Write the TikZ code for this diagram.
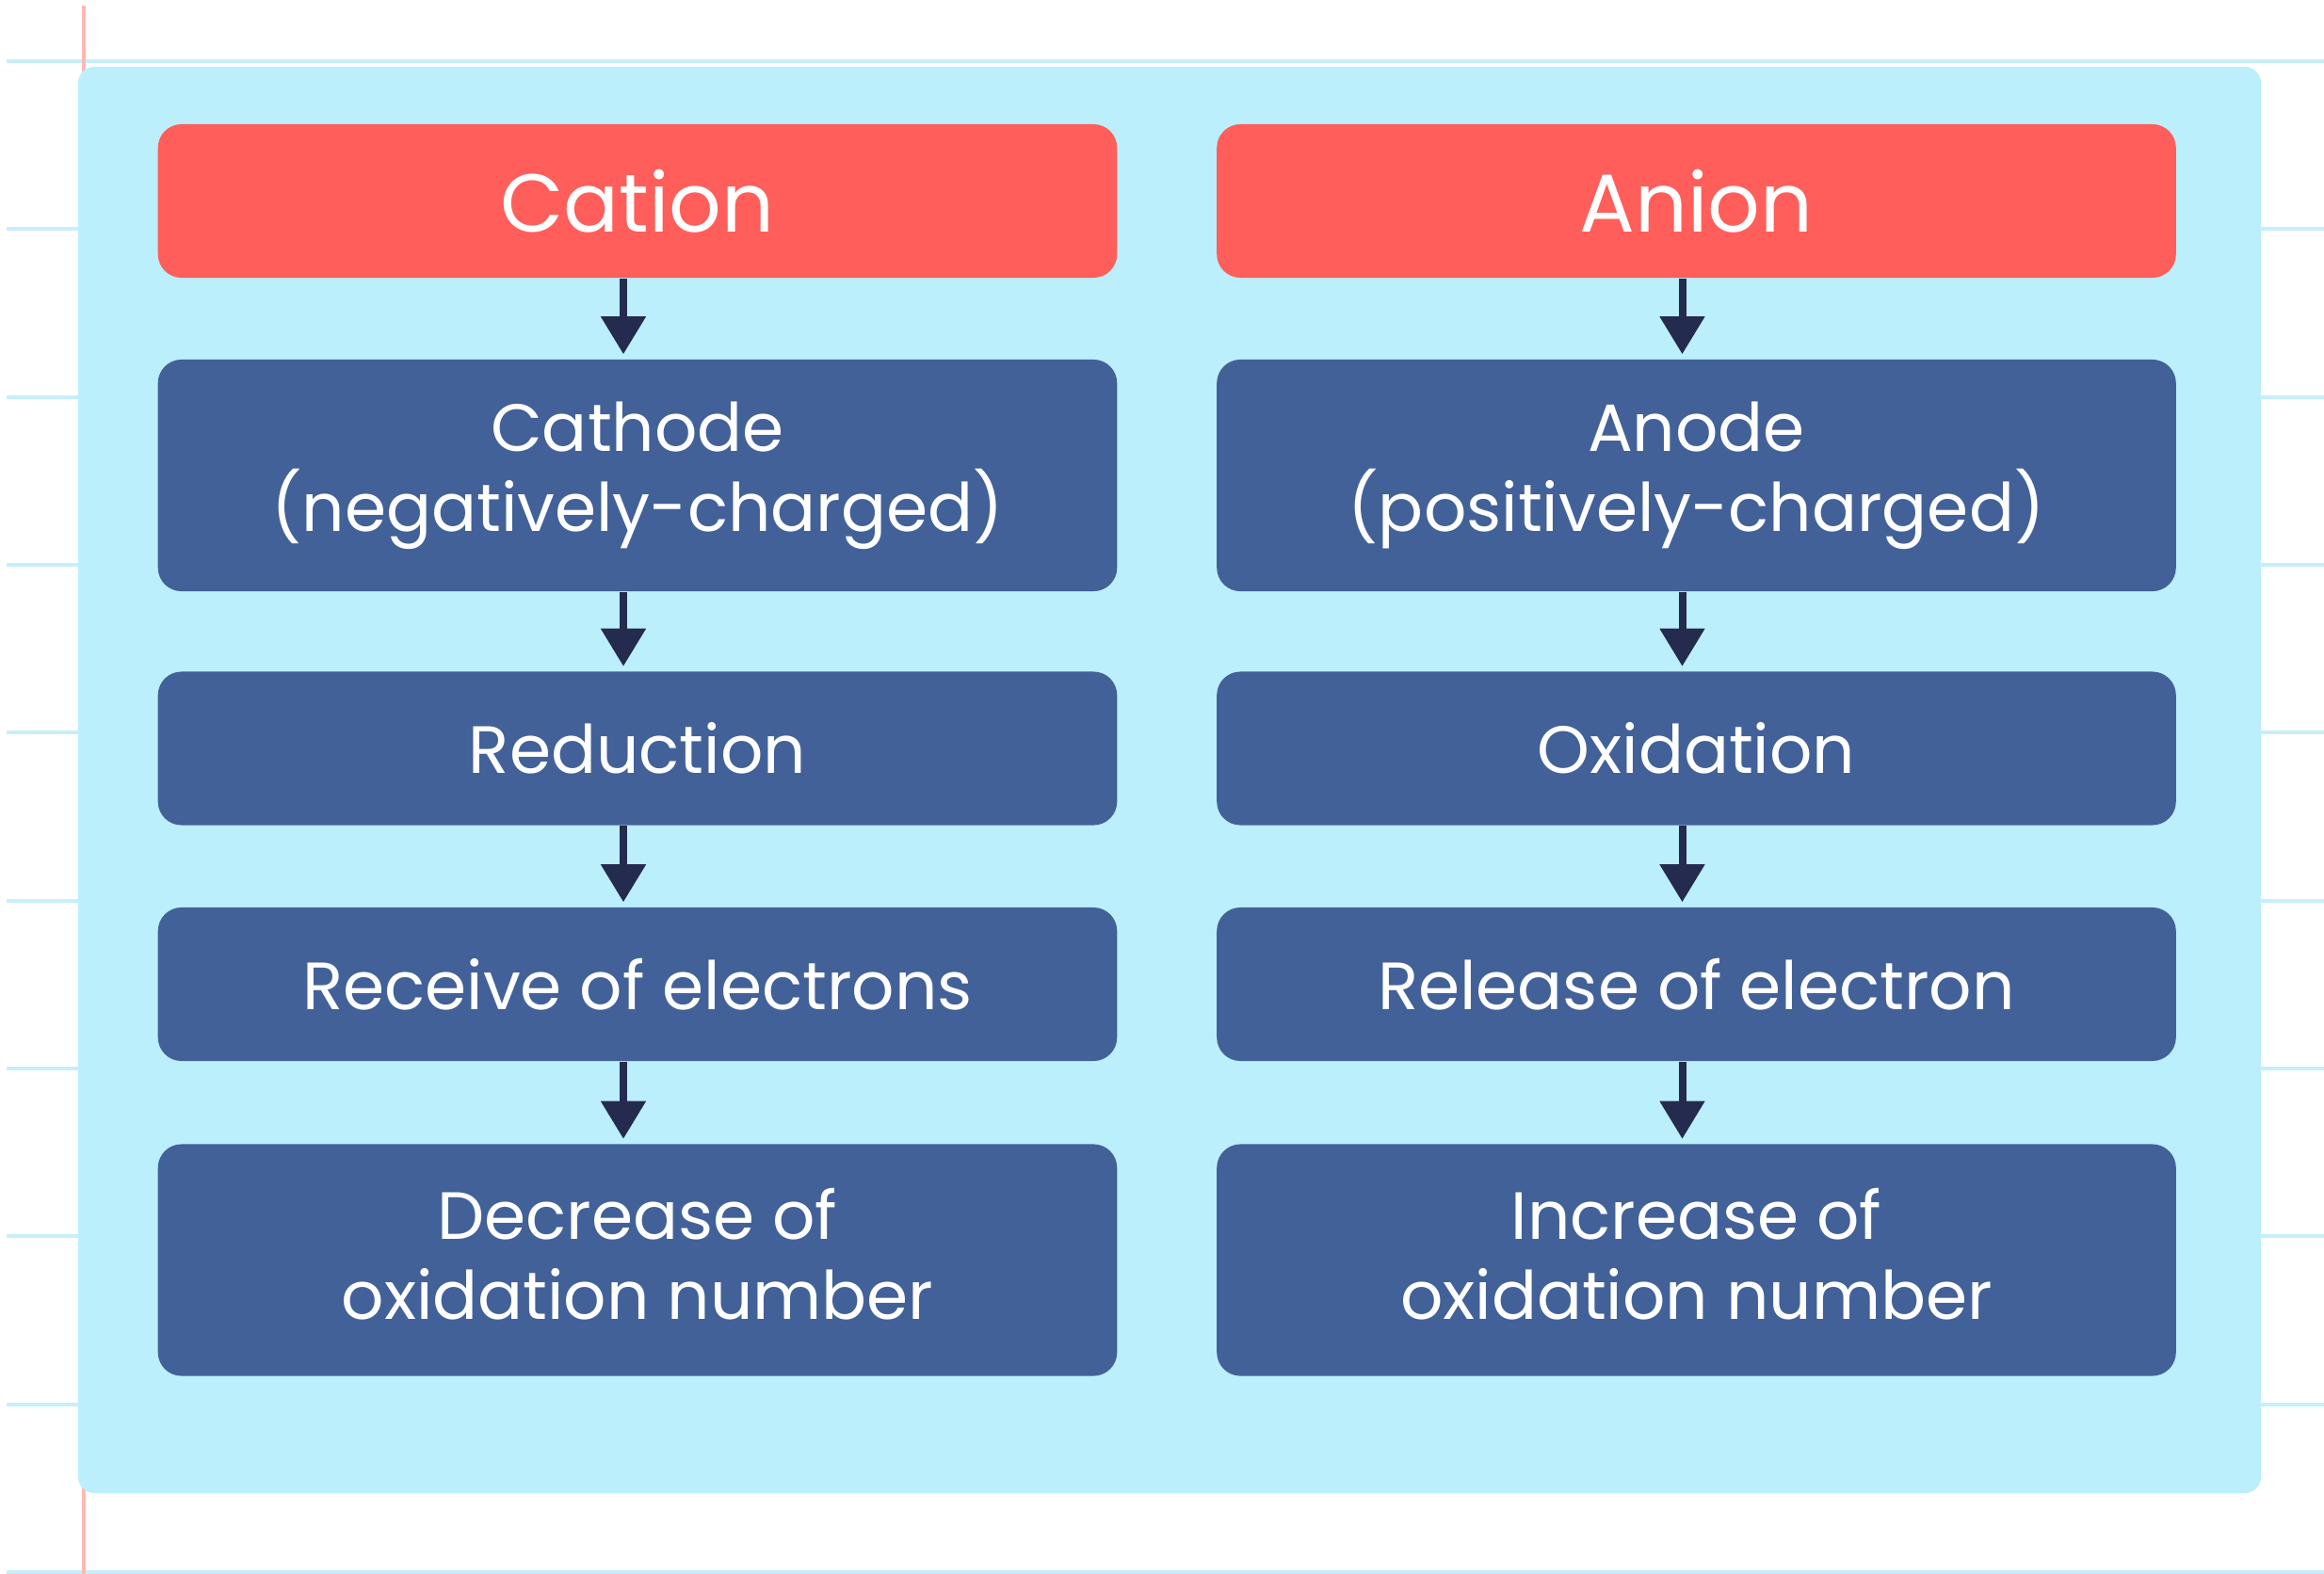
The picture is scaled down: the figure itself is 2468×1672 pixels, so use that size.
\documentclass[tikz,border=0pt]{standalone}
\usepackage{fontspec}
\setmainfont{Poppins}
\usetikzlibrary{arrows.meta}
\definecolor{panelblue}{HTML}{BBEFFC}
\definecolor{lineblue}{HTML}{C6EFFB}
\definecolor{marginred}{HTML}{FFB8B5}
\definecolor{titlered}{HTML}{FF5E5B}
\definecolor{boxblue}{HTML}{426198}
\definecolor{arrowcol}{HTML}{252A4F}
\tikzset{
  titlebox/.style={fill=titlered, rounded corners=0.25cm, minimum width=10.18cm, minimum height=1.63cm,
    text=white, font=\fontsize{24.8pt}{30pt}\selectfont, inner sep=0pt},
  stepbox/.style={fill=boxblue, rounded corners=0.25cm, minimum width=10.18cm, minimum height=1.63cm,
    text=white, font=\fontsize{20.2pt}{24.2pt}\selectfont, align=center, inner sep=0pt},
  tallbox/.style={stepbox, minimum height=2.46cm},
  flow/.style={draw=arrowcol, line width=0.08cm, -{Triangle[width=0.46cm,length=0.4cm]}, shorten >=0.05cm},
  ruled/.style={draw=lineblue, line width=0.04cm}
}
\begin{document}
\begin{tikzpicture}[x=0.01cm,y=-0.01cm]
\useasboundingbox (0,0) rectangle (2468,1672);
% notebook paper
\foreach \k in {0,...,9}
  \draw[ruled] (7,{65+178.33*\k}) -- (2468,{65+178.33*\k});
\draw[marginred, line width=0.035cm] (89,6) -- (89,1672);
% panel
\fill[panelblue, rounded corners=0.17cm] (83,71) rectangle (2401,1586);
% left column
\node[titlebox] (c1) at (677,213.5) {Cation};
\node[tallbox]  (c2) at (677,505) {Cathode\\(negatively-charged)};
\node[stepbox]  (c3) at (677,795) {Reduction};
\node[stepbox]  (c4) at (677,1045.5) {Receive of electrons};
\node[tallbox]  (c5) at (677,1338.5) {Decrease of\\oxidation number\vphantom{(}};
% right column
\node[titlebox] (a1) at (1801.5,213.5) {Anion};
\node[tallbox]  (a2) at (1801.5,505) {Anode\\(positively-charged)};
\node[stepbox]  (a3) at (1801.5,795) {Oxidation};
\node[stepbox]  (a4) at (1801.5,1045.5) {Release of electron};
\node[tallbox]  (a5) at (1801.5,1338.5) {Increase of\\oxidation number\vphantom{(}};
% arrows
\foreach \p in {c,a}{
  \draw[flow] ([xshift=-0.15cm]\p1.south) -- ([xshift=-0.15cm]\p2.north);
  \draw[flow] ([xshift=-0.15cm]\p2.south) -- ([xshift=-0.15cm]\p3.north);
  \draw[flow] ([xshift=-0.15cm]\p3.south) -- ([xshift=-0.15cm]\p4.north);
  \draw[flow] ([xshift=-0.15cm]\p4.south) -- ([xshift=-0.15cm]\p5.north);
}
\end{tikzpicture}
\end{document}
